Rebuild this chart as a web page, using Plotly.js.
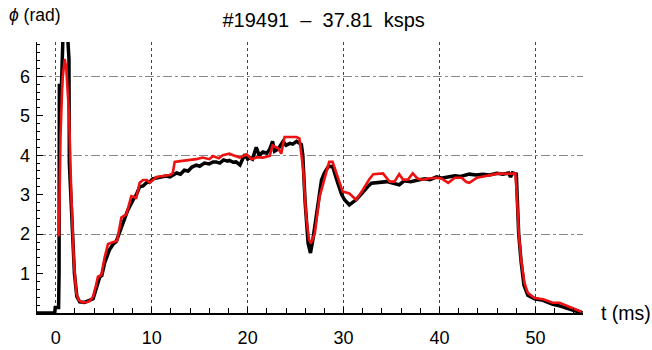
<!DOCTYPE html>
<html>
<head>
<meta charset="utf-8">
<script src="https://cdn.plot.ly/plotly-3.0.1.min.js"></script>
<style>html,body{margin:0;padding:0;background:#fff;}#chart{width:652px;height:350px;}</style>
</head>
<body>
<div id="chart"></div>
<script>
// Measured phase (black, noisy)
var tMeasured = [-2.0,-0.1,-0.05,0.3,0.35,0.38,0.6,0.7,0.78,1.2,1.3,1.38,1.42,1.6,1.75,1.95,2.2,2.5,3.0,3.4,3.9,4.2,4.6,4.8,5.1,5.6,6.0,6.3,6.6,7.0,7.5,8.05,8.4,8.75,9.1,9.45,9.8,10.1,10.5,11.0,11.5,11.9,12.3,12.6,13.0,13.4,13.8,14.2,14.65,15.0,15.5,16.0,16.4,16.7,17.1,17.5,17.9,18.1,18.5,18.8,19.2,19.5,19.7,20.0,20.2,20.5,20.9,21.2,21.6,22.0,22.3,22.6,22.8,23.0,23.3,23.7,24.0,24.4,24.7,25.1,25.4,25.6,25.75,26.0,26.3,26.55,26.8,27.2,27.7,28.0,28.4,28.85,29.1,29.4,29.8,30.1,30.6,31.0,31.3,31.8,32.2,32.5,32.9,33.5,34.1,34.5,35.0,35.5,35.8,36.3,37.0,37.9,38.5,39.0,39.7,40.3,41.0,41.6,42.2,43.1,43.8,44.5,45.2,46.0,46.6,47.2,47.4,47.6,48.0,48.1,48.25,48.5,48.8,49.2,49.9,50.8,51.8,52.5,53.4,54.2,54.9];
var phiMeasured = [0,0,0.14,0.14,1.0,5.77,5.77,6.5,7.2,7.2,6.5,6.45,3.8,2.8,1.9,1.0,0.42,0.28,0.27,0.3,0.36,0.6,0.92,0.95,1.27,1.6,1.75,1.81,2.0,2.26,2.6,2.86,3.0,3.2,3.22,3.3,3.32,3.4,3.42,3.45,3.47,3.45,3.5,3.55,3.52,3.62,3.6,3.7,3.75,3.72,3.8,3.78,3.83,3.83,3.8,3.88,3.85,3.87,3.82,3.83,3.75,3.9,4.02,3.9,3.94,3.9,4.2,4.0,4.08,4.05,4.15,4.35,4.1,4.13,4.2,4.35,4.25,4.3,4.28,4.35,4.3,4.27,4.0,2.78,1.77,1.52,1.86,2.53,3.37,3.55,3.71,3.72,3.55,3.29,3.0,2.87,2.74,2.8,2.87,3.0,3.12,3.2,3.29,3.3,3.33,3.33,3.3,3.28,3.25,3.35,3.33,3.38,3.4,3.38,3.45,3.42,3.45,3.48,3.46,3.52,3.5,3.52,3.5,3.54,3.52,3.55,3.45,3.55,3.52,3.0,2.0,1.3,0.7,0.45,0.36,0.32,0.22,0.18,0.1,0.05,0.0];

// Reconstructed phase (red)
var tFit = [0.34,0.5,0.7,0.94,1.1,1.39,1.63,1.9,2.15,2.4,2.8,3.3,3.6,3.9,4.2,4.4,4.75,5.1,5.45,6.0,6.4,6.84,7.36,7.88,8.4,8.75,9.1,9.5,9.8,10.5,11.2,11.9,12.2,12.4,13.0,13.96,14.65,15.3,16.0,16.4,17.0,17.4,18.1,18.5,19.2,19.9,20.4,21.0,21.6,22.3,22.6,23.2,23.5,23.85,24.5,25.1,25.4,25.8,26.1,26.4,26.6,27.0,27.5,28.0,28.5,28.85,29.4,29.9,30.6,31.3,32.0,32.7,33.1,34.1,34.8,35.3,35.8,36.2,36.7,37.2,37.7,38.2,38.8,39.7,40.2,40.9,41.6,42.3,42.8,43.1,43.9,45.2,46.2,47.0,47.9,48.05,48.26,48.5,48.85,49.2,49.9,50.8,51.8,52.5,53.4,54.2,54.8];
var phiFit = [1.94,4.5,5.9,6.44,6.2,5.05,2.95,1.27,0.5,0.32,0.27,0.28,0.32,0.42,0.7,0.92,0.96,1.41,1.75,1.8,1.83,2.42,2.5,2.96,2.92,3.3,3.37,3.37,3.3,3.45,3.47,3.5,3.55,3.83,3.85,3.87,3.9,3.94,3.9,3.98,3.92,4.0,4.04,4.0,3.94,4.02,3.9,3.95,3.94,3.98,4.25,4.17,4.04,4.46,4.45,4.46,4.42,3.62,2.44,1.86,1.77,2.02,2.95,3.41,3.83,3.83,3.45,3.08,3.03,2.87,3.12,3.4,3.52,3.54,3.33,3.33,3.52,3.38,3.38,3.54,3.41,3.38,3.41,3.43,3.41,3.3,3.43,3.43,3.32,3.3,3.43,3.5,3.54,3.53,3.54,3.03,2.02,1.35,0.76,0.51,0.38,0.35,0.26,0.26,0.17,0.11,0.03];

var yTickVals = [0,1,2,3,4,5,6];
var yTickText = ['','1','2','3','4','5','6'];
var titleText = '#19491 &nbsp;–&nbsp; 37.81 &nbsp;ksps';
var yLabel = '<i>ϕ</i> (rad)';
var xLabel = 't (ms)';

var FONT = 'Liberation Sans, Arial, sans-serif';
var xRange = [-1.95, 54.95];
var yRange = [0, 6.87];

var traces = [
  {x: tMeasured, y: phiMeasured, type: 'scatter', mode: 'lines', yaxis: 'y',
   line: {color: '#000000', width: 3.5}, hoverinfo: 'skip'},
  {x: tFit, y: phiFit, type: 'scatter', mode: 'lines', yaxis: 'y2',
   line: {color: '#ee1111', width: 2.6}, hoverinfo: 'skip'}
];

var layout = {
  width: 652, height: 350,
  margin: {l: 37, r: 69, t: 42, b: 37, pad: 0},
  paper_bgcolor: '#ffffff', plot_bgcolor: '#ffffff',
  showlegend: false,
  font: {family: FONT, size: 17, color: '#000'},
  title: {text: titleText, font: {family: FONT, size: 20, color: '#000'},
          x: 0.525, xref: 'paper', xanchor: 'center', y: 0.943, yanchor: 'middle'},
  xaxis: {
    range: xRange, tick0: 0, dtick: 10, tickmode: 'linear',
    ticks: 'inside', ticklen: 6, tickwidth: 1, tickcolor: '#000',
    showline: true, linecolor: '#000', linewidth: 1.5,
    showgrid: true, gridcolor: '#444', griddash: 'dot', gridwidth: 1,
    zeroline: false, ticklabelstandoff: 8,
    tickfont: {family: FONT, size: 18, color: '#000'},
    minor: {dtick: 2, tick0: 0, ticks: 'inside', ticklen: 5, tickcolor: '#000', showgrid: false}
  },
  yaxis: {
    range: yRange, tick0: 0, dtick: 2, tickmode: 'linear',
    showgrid: true, gridcolor: '#888', griddash: 'dashdot', gridwidth: 1,
    showticklabels: false, ticks: '',
    showline: true, linecolor: '#000', linewidth: 1.5, zeroline: false
  },
  yaxis2: {
    overlaying: 'y', side: 'left', range: yRange,
    tickmode: 'array', tickvals: yTickVals, ticktext: yTickText,
    ticks: 'inside', ticklen: 6, tickwidth: 1, tickcolor: '#000',
    showline: false, showgrid: false, zeroline: false, ticklabelstandoff: 6,
    tickfont: {family: FONT, size: 18, color: '#000'},
    minor: {tickmode: 'linear', tick0: 0, dtick: 0.2, ticks: 'inside', ticklen: 3, tickcolor: '#000', showgrid: false}
  },
  annotations: [
    {text: yLabel, xref: 'paper', yref: 'paper', x: -0.055, y: 1.1, xanchor: 'left', yanchor: 'middle',
     showarrow: false, font: {family: FONT, size: 17.5, color: '#000'}},
    {text: xLabel, xref: 'paper', yref: 'paper', x: 1.03, y: 0, xanchor: 'left', yanchor: 'middle',
     showarrow: false, font: {family: FONT, size: 19.5, color: '#000'}}
  ]
};

Plotly.newPlot('chart', traces, layout, {staticPlot: true, displayModeBar: false});
</script>
</body>
</html>
